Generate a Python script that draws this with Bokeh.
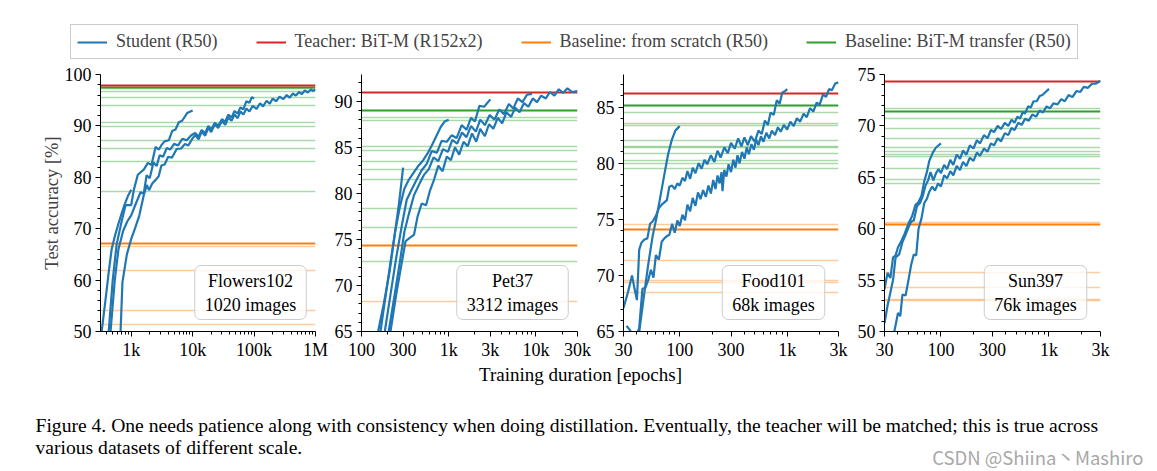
from bokeh.plotting import figure
from bokeh.models import Range1d, FixedTicker, Label
from bokeh.layouts import column, row
from bokeh.core.properties import value
from bokeh.embed import file_html
from bokeh.resources import INLINE

BLUE = "#1f77b4"; RED = "#d62728"; ORANGE = "#ff7f0e"; GREEN = "#2ca02c"
SERIF = "Liberation Serif"

# ---------------- data ----------------
LEGEND_LABELS = ["Student (R50)", "Teacher: BiT-M (R152x2)",
                 "Baseline: from scratch (R50)", "Baseline: BiT-M transfer (R50)"]
NAMES = ["Flowers102", "Pet37", "Food101", "Sun397"]
SIZES = ["1020 images", "3312 images", "68k images", "76k images"]
Y_LABEL = "Test accuracy [%]"
X_LABEL = "Training duration [epochs]"
CAPTION_1 = ("Figure 4. One needs patience along with consistency when doing distillation. "
             "Eventually, the teacher will be matched; this is true across")
CAPTION_2 = "various datasets of different scale."
WATERMARK = "CSDN @Shiina丶Mashiro"

# tick labels
FLOW_XTICKS = [1000, 10000, 100000, 1000000]
FLOW_XLABELS = ["1k", "10k", "100k", "1M"]
PET_XTICKS = [100, 300, 1000, 3000, 10000, 30000]
PET_XLABELS = ["100", "300", "1k", "3k", "10k", "30k"]
FS_XTICKS = [30, 100, 300, 1000, 3000]
FS_XLABELS = ["30", "100", "300", "1k", "3k"]
FLOW_YTICKS = [50, 60, 70, 80, 90, 100]
PET_YTICKS = [65, 70, 75, 80, 85, 90]
FOOD_YTICKS = [65, 70, 75, 80, 85]
SUN_YTICKS = [50, 55, 60, 65, 70, 75]

# horizontal reference lines (accuracy %)
FLOW_TEACHER = [97.9]
FLOW_SCRATCH_BEST = [67.1]
FLOW_SCRATCH_OTHER = [66.5, 61.8, 54.1, 51.4]
FLOW_TRANSFER_BEST = [97.5]
FLOW_TRANSFER_OTHER = [97.2, 96.6, 95.5, 94.0, 90.7, 89.9, 87.2, 85.7, 83.0, 77.3]

PET_TEACHER = [91.0]
PET_SCRATCH_BEST = [74.3]
PET_SCRATCH_OTHER = [68.3]
PET_TRANSFER_BEST = [89.0]
PET_TRANSFER_OTHER = [88.2, 87.9, 85.1, 84.6, 83.5, 82.6, 81.5, 78.3, 76.3, 72.6]

FOOD_TEACHER = [86.2]
FOOD_SCRATCH_BEST = [74.1]
FOOD_SCRATCH_OTHER = [74.55, 71.3, 69.5, 69.35, 68.5]
FOOD_TRANSFER_BEST = [85.1]
FOOD_TRANSFER_OTHER = [84.5, 83.5, 83.4, 82.0, 81.5, 81.4, 80.85, 80.25, 79.95, 79.5]

SUN_TEACHER = [74.3]
SUN_SCRATCH_BEST = [60.45]
SUN_SCRATCH_OTHER = [60.6, 55.7, 54.25, 53.15, 53.0]
SUN_TRANSFER_BEST = [71.4]
SUN_TRANSFER_OTHER = [71.66, 70.75, 69.7, 68.8, 67.9, 67.5, 67.2, 67.05, 65.9, 64.75, 64.35]

# student curves: (epochs, accuracy)
FLOW_C1 = [(330, 50), (380, 56), (430, 61.5), (480, 66), (540, 68.5), (620, 71), (700, 73),
           (780, 74.7), (880, 76.3), (1000, 77.6)]
FLOW_C2 = [(430, 50), (500, 60), (580, 67), (700, 71.5), (810, 74.6), (1000, 74.6), (1100, 77.5),
           (1280, 80.5), (1600, 81.5), (1870, 82.8), (2140, 82.4), (2490, 85.9), (2820, 85.4),
           (3080, 86.2), (3490, 87), (4090, 87.2), (4640, 89), (5260, 89.3), (5960, 90.7),
           (6750, 91), (8140, 92.5), (10000, 93)]
FLOW_C3 = [(461, 50), (540, 60), (620, 66), (740, 69.6), (870, 71.5), (1000, 72.6), (1200, 75),
           (1420, 77.1), (1600, 76.8), (1780, 80.4), (2000, 79.8), (2300, 82.9), (2600, 82.2),
           (2900, 84.3), (3300, 84), (3800, 85.7), (4300, 85.4), (5000, 86.5), (5800, 86.2),
           (6800, 87.5), (8000, 87.2), (9500, 88.2), (11000, 88.6), (12500, 87.9), (14000, 89.2),
           (16000, 88.6), (18000, 90), (20000, 89.3), (23000, 90.6), (26000, 90.0), (30000, 91.3),
           (34000, 90.8), (38000, 92.2), (43000, 91.6), (48000, 92.9), (54000, 92.4), (60000, 93.6),
           (67000, 93.2), (75000, 94.8), (84000, 94.5), (92000, 95.6), (100000, 95.3)]
FLOW_C4 = [(671, 50), (720, 59.6), (850, 65), (1000, 68), (1150, 70), (1350, 72.5), (1600, 76.5),
           (1800, 78.5), (1950, 77.5), (2200, 78.8), (2500, 79.5), (2800, 80.2), (3100, 82.3),
           (3500, 82.5), (4000, 84), (4600, 83.8), (5500, 85.5), (6500, 85.6), (7500, 86.5),
           (8500, 86.2), (10000, 87.6), (11000, 88.2), (12500, 87.4), (14000, 88.9), (16000, 88.1),
           (18000, 89.6), (20000, 88.8), (23000, 90.3), (26000, 89.6), (30000, 90.9), (34000, 90.2),
           (38000, 91.6), (43000, 91), (48000, 92.2), (54000, 91.5), (60000, 92.8), (67000, 92.2),
           (75000, 93.4), (84000, 92.8), (95000, 93.9), (110000, 93.3), (125000, 94.4),
           (140000, 93.8), (160000, 94.9), (180000, 94.3), (200000, 95.3), (230000, 94.8),
           (260000, 95.7), (300000, 95.2), (340000, 96), (380000, 95.5), (430000, 96.3),
           (480000, 95.9), (540000, 96.6), (600000, 96.2), (670000, 96.9), (750000, 96.5),
           (840000, 97.1), (920000, 96.8), (1000000, 97.1)]

PET_P1 = [(155, 65), (180, 68), (210, 71.5), (240, 75.5), (270, 79), (300, 82.8)]
PET_P2 = [(165, 65), (190, 69), (215, 72.5), (245, 76), (275, 78.5), (310, 80.5), (350, 81.5),
          (400, 82.3), (450, 83), (510, 83.6), (570, 84.3), (640, 85.2), (720, 86.2), (810, 87.2),
          (900, 87.8), (1000, 88.0)]
PET_P3 = [(185, 65), (215, 69), (250, 73), (290, 76.5), (330, 79.3), (380, 80.5), (430, 81.5),
          (490, 82.5), (560, 83.2), (640, 84.6), (730, 84.4), (830, 85.7), (950, 85.6),
          (1080, 86.3), (1230, 86.0), (1410, 87.4), (1600, 86.9), (1800, 88.2), (2000, 87.8),
          (2250, 89.5), (2550, 89.4), (3000, 90.2)]
PET_P4 = [(205, 65), (240, 69), (275, 72.5), (310, 75.8), (350, 77.8), (400, 79.8), (460, 81),
          (520, 82), (590, 82.6), (670, 83.9), (760, 83.5), (860, 84.8), (980, 84.5), (1100, 85.8),
          (1250, 85.4), (1420, 86.6), (1600, 86.1), (1800, 87.3), (2050, 86.7), (2300, 88.0),
          (2600, 87.4), (2950, 88.5), (3350, 88.0), (3800, 89.1), (4300, 88.6), (4900, 89.7),
          (5500, 89.2), (6200, 90.3), (7000, 89.9), (7900, 90.7), (9000, 90.8)]
PET_P5 = [(215, 65), (250, 69), (290, 72.5), (320, 74.8), (360, 75.2), (400, 75.5), (440, 77.5),
          (490, 78.9), (550, 78.7), (610, 80.3), (680, 81.5), (760, 83.0), (850, 82.4), (950, 84.0),
          (1060, 83.6), (1180, 85.0), (1320, 84.2), (1480, 85.6), (1650, 85.1), (1850, 86.5),
          (2070, 85.6), (2300, 87.0), (2600, 86.2), (2900, 87.5), (3250, 87.0), (3650, 88.2),
          (4100, 87.6), (4600, 88.8), (5200, 88.3), (5800, 89.3), (6500, 88.8), (7300, 89.8),
          (8200, 89.4), (9200, 90.3), (10300, 89.9), (11500, 90.6), (13000, 90.3), (14500, 91.0),
          (16300, 90.6), (18300, 91.3), (20500, 90.9), (23000, 91.4), (26000, 91.0), (30000, 91.1)]

FOOD_F1 = [(42, 65), (47, 68.5), (51, 71), (56, 73.5), (61, 75.2), (66, 77), (72, 79), (78, 80.8),
           (84, 82), (91, 82.9), (100, 83.3)]
FOOD_F2 = [(30, 67.1), (33, 68.5), (36, 70), (38, 68.8), (40, 67.8), (42, 72.3), (44, 72.9),
           (47, 73.2), (50, 73.3), (53, 74.6), (56, 74.8), (60, 75.3), (64, 76), (68, 76.3),
           (72, 76.5), (76, 76.7), (80, 77.9), (85, 78.0), (90, 77.7), (95, 78.2), (100, 78.0),
           (106, 78.7), (112, 78.4), (118, 79.3), (125, 78.6), (132, 79.6), (140, 79.1), (150, 80.0),
           (160, 79.5), (170, 80.3), (180, 79.9), (195, 80.7), (210, 80.1), (225, 81.1), (240, 80.5),
           (260, 81.4), (280, 80.9), (300, 81.8), (325, 81.3), (350, 82.2), (375, 81.5), (400, 82.3),
           (430, 81.6), (460, 82.4), (500, 81.9), (540, 82.9), (580, 82.6), (620, 83.8), (660, 83.4),
           (700, 84.5), (750, 84.3), (800, 85.6), (850, 85.3), (900, 86.3), (950, 86.4), (1000, 86.6)]
FOOD_F3 = [(32, 65.5), (34, 65.2), (36, 64.8), (39, 64.5), (42, 65.3), (45, 68.8), (48, 68.9),
           (51, 69.6), (54, 70.5), (57, 69.8), (60, 71.8), (64, 71.4), (68, 73), (72, 73.3),
           (76, 73.5), (80, 73.6), (85, 74.6), (90, 73.8), (95, 74.9), (100, 74.4), (106, 75.4),
           (112, 74.9), (118, 76.3), (125, 75.7), (132, 76.9), (140, 76.2), (148, 77.4), (156, 76.8),
           (165, 77.6), (175, 77), (185, 78), (195, 77.3), (205, 78.5), (215, 77.7), (225, 78.9),
           (235, 78.2), (245, 79.2), (250, 77.5), (260, 79.4), (272, 78.8), (285, 79.9), (300, 79.2),
           (315, 80.3), (330, 79.6), (345, 80.7), (360, 80), (380, 81), (400, 80.4), (420, 81.4),
           (440, 80.8), (465, 81.7), (490, 81.2), (515, 82.1), (540, 81.6), (570, 82.4), (600, 81.9),
           (640, 82.7), (680, 82.2), (720, 82.9), (770, 82.5), (820, 83.2), (870, 82.8), (930, 83.4),
           (1000, 83), (1070, 83.7), (1150, 83.3), (1230, 84), (1320, 83.7), (1420, 84.4),
           (1520, 84.1), (1630, 84.9), (1750, 84.6), (1880, 85.4), (2000, 85.2), (2150, 86.1),
           (2300, 85.9), (2450, 86.6), (2600, 86.5), (2800, 87.1), (3000, 87.2)]

SUN_S1 = [(30, 54.1), (32, 55.7), (34, 55.2), (36, 57.2), (38, 57.4), (40, 58.2), (43, 58.8),
          (46, 59.5), (50, 60.5), (54, 61.2), (58, 62.3), (62, 62.6), (66, 63.2), (70, 64.6),
          (74, 65.5), (78, 66.6), (84, 67.4), (90, 67.9), (100, 68.3)]
SUN_S2 = [(30, 50.8), (32, 52.5), (34, 53.8), (36, 55), (38, 57.2), (41, 57.5), (44, 58.7),
          (47, 59.4), (50, 60.1), (53, 60.7), (56, 60.8), (60, 62.2), (64, 62.5), (68, 63.2),
          (72, 64.2), (76, 64.7), (80, 65.5), (85, 64.7), (90, 65.4), (95, 65.8), (100, 65.4),
          (107, 66.2), (114, 65.8), (122, 66.7), (130, 66.2), (140, 67.2), (150, 66.8), (160, 67.6),
          (172, 67.2), (185, 68.1), (200, 67.8), (215, 68.6), (230, 68.3), (250, 69.1), (270, 68.8),
          (290, 69.6), (310, 69.4), (335, 70), (360, 69.7), (390, 70.3), (420, 70), (450, 70.6),
          (480, 70.3), (510, 70.9), (540, 70.7), (570, 71.3), (600, 71.2), (640, 71.9), (680, 71.8),
          (720, 72.4), (770, 72.4), (820, 72.9), (870, 73), (930, 73.3), (1000, 73.6)]
SUN_S3 = [(37, 50), (40, 51.8), (42, 51.5), (44, 53.6), (47, 53.5), (50, 55), (53, 56.5),
          (56, 57.5), (59, 57.4), (62, 60), (66, 61), (70, 62.5), (74, 62.9), (78, 63.6), (83, 64.1),
          (88, 63.7), (94, 64.4), (100, 64.1), (107, 65.2), (114, 64.9), (122, 65.6), (130, 65.2),
          (140, 66.1), (150, 65.7), (160, 66.5), (172, 66.1), (185, 66.9), (200, 66.6), (215, 67.4),
          (230, 67.1), (250, 67.8), (270, 67.5), (290, 68.3), (310, 68.1), (335, 68.8), (360, 68.5),
          (390, 69.3), (420, 69.1), (450, 69.8), (480, 69.6), (520, 70.3), (560, 70.1), (600, 70.7),
          (650, 70.5), (700, 71.1), (760, 70.9), (820, 71.5), (880, 71.3), (950, 71.9), (1020, 71.7),
          (1100, 72.2), (1200, 72.1), (1300, 72.6), (1400, 72.4), (1520, 73), (1650, 72.8),
          (1800, 73.4), (1950, 73.3), (2100, 73.8), (2300, 73.7), (2500, 74.1), (2700, 74.1),
          (3000, 74.4)]


# ---------------- helpers ----------------
def log_minor(exps, majors):
    return [m * 10 ** e for e in exps for m in range(2, 10) if m * 10 ** e not in majors]


def make_panel(xr, yr, xt, xl, xminor, yt, yminor, left, fw, lines, curves, name, size, ylabel=None):
    p = figure(x_axis_type="log", x_range=Range1d(*xr), y_range=Range1d(*yr),
               frame_width=fw, frame_height=257, min_border_left=left, min_border_right=16,
               min_border_top=14, min_border_bottom=30, output_backend="svg",
               toolbar_location=None, background_fill_color="white", border_fill_color="white")
    p.outline_line_color = None
    p.xgrid.visible = False
    p.ygrid.visible = False
    p.xaxis.ticker = FixedTicker(ticks=xt, minor_ticks=xminor)
    p.xaxis.major_label_overrides = {t: l for t, l in zip(xt, xl)}
    p.yaxis.ticker = FixedTicker(ticks=yt, minor_ticks=yminor)
    for ax in (p.xaxis[0], p.yaxis[0]):
        ax.major_label_text_font = SERIF
        ax.major_label_text_font_size = "18px"
        ax.major_label_text_color = "black"
        ax.axis_line_color = "black"
        ax.major_tick_line_color = "black"
        ax.minor_tick_line_color = "black"
        ax.major_tick_in = 0
        ax.major_tick_out = 5
        ax.minor_tick_in = 0
        ax.minor_tick_out = 3
    p.xaxis.major_label_standoff = 3
    p.yaxis.major_label_standoff = 4
    if ylabel:
        p.yaxis.axis_label = ylabel
        p.yaxis.axis_label_text_font = SERIF
        p.yaxis.axis_label_text_font_size = "18.5px"
        p.yaxis.axis_label_text_font_style = "normal"
        p.yaxis.axis_label_standoff = 0
    teacher, sc_best, sc_other, tr_best, tr_other = lines
    p.hspan(y=tr_other, line_color=GREEN, line_width=1.5, line_alpha=0.4)
    p.hspan(y=sc_other, line_color=ORANGE, line_width=1.5, line_alpha=0.4)
    p.hspan(y=tr_best, line_color=GREEN, line_width=2, line_alpha=1)
    p.hspan(y=sc_best, line_color=ORANGE, line_width=2, line_alpha=1)
    p.hspan(y=teacher, line_color=RED, line_width=2, line_alpha=1)
    for pts in curves:
        xs, ys = zip(*pts)
        p.line(list(xs), list(ys), line_color=BLUE, line_width=2.2)
    p.add_layout(Label(x=fw - 65, y=12, x_units="screen", y_units="screen",
                       text=name + "\n" + size, text_align="center", text_baseline="bottom",
                       text_font=SERIF, text_font_size="18px", text_color="black",
                       background_fill_color="white", background_fill_alpha=0.8,
                       border_line_color="#cccccc", border_line_alpha=1.0, border_line_width=1,
                       padding=dict(left=10, right=10, top=5, bottom=5), border_radius=6))
    return p


p1 = make_panel((10 ** 2.5, 1e6), (50, 100), FLOW_XTICKS, FLOW_XLABELS,
                log_minor(range(2, 6), FLOW_XTICKS), FLOW_YTICKS,
                [v for v in range(50, 101, 2) if v not in FLOW_YTICKS], 100, 215,
                (FLOW_TEACHER, FLOW_SCRATCH_BEST, FLOW_SCRATCH_OTHER, FLOW_TRANSFER_BEST, FLOW_TRANSFER_OTHER),
                [FLOW_C1, FLOW_C2, FLOW_C3, FLOW_C4], NAMES[0], SIZES[0], ylabel=Y_LABEL)
p2 = make_panel((100, 30000), (65, 92.9), PET_XTICKS, PET_XLABELS,
                log_minor(range(2, 5), PET_XTICKS), PET_YTICKS,
                [v for v in range(65, 93) if v not in PET_YTICKS], 27, 216,
                (PET_TEACHER, PET_SCRATCH_BEST, PET_SCRATCH_OTHER, PET_TRANSFER_BEST, PET_TRANSFER_OTHER),
                [PET_P1, PET_P2, PET_P3, PET_P4, PET_P5], NAMES[1], SIZES[1])
p3 = make_panel((30, 3000), (65, 87.9), FS_XTICKS, FS_XLABELS,
                log_minor(range(1, 4), FS_XTICKS), FOOD_YTICKS,
                [v for v in range(65, 88) if v not in FOOD_YTICKS], 27, 215,
                (FOOD_TEACHER, FOOD_SCRATCH_BEST, FOOD_SCRATCH_OTHER, FOOD_TRANSFER_BEST, FOOD_TRANSFER_OTHER),
                [FOOD_F1, FOOD_F2, FOOD_F3], NAMES[2], SIZES[2])
p4 = make_panel((30, 3000), (50, 75), FS_XTICKS, FS_XLABELS,
                log_minor(range(1, 4), FS_XTICKS), SUN_YTICKS,
                [v for v in range(50, 76) if v not in SUN_YTICKS], 27, 216,
                (SUN_TEACHER, SUN_SCRATCH_BEST, SUN_SCRATCH_OTHER, SUN_TRANSFER_BEST, SUN_TRANSFER_OTHER),
                [SUN_S1, SUN_S2, SUN_S3], NAMES[3], SIZES[3])

# ---------------- legend strip ----------------
leg = figure(width=1150, height=60, x_range=Range1d(0, 1), y_range=Range1d(0, 1),
             output_backend="svg", toolbar_location=None, min_border=0,
             x_axis_location=None, y_axis_location=None, outline_line_color=None)
leg.xgrid.visible = False
leg.ygrid.visible = False
for lab, col in zip(LEGEND_LABELS, [BLUE, RED, ORANGE, GREEN]):
    # off-range placeholder data: only the legend entry is visible
    leg.line(x=[5, 6], y=[5, 5], line_color=col, line_width=2, legend_label=lab)
L = leg.legend[0]
L.orientation = "horizontal"
L.location = (70, 1)
L.label_text_font = SERIF
L.label_text_font_size = "18px"
L.border_line_color = "#cccccc"
L.border_line_width = 1
L.border_line_alpha = 1
L.padding = 6
L.margin = 0
L.spacing = 38
L.glyph_width = 30
L.glyph_height = 20
L.label_height = 20
L.label_standoff = 9

# ---------------- caption strip ----------------
cap = figure(width=1150, height=108, x_range=Range1d(0, 1150), y_range=Range1d(469, 361),
             output_backend="svg", toolbar_location=None, min_border=0,
             x_axis_location=None, y_axis_location=None, outline_line_color=None)
cap.xgrid.visible = False
cap.ygrid.visible = False
cap.text(x=[580], y=[373], text=[X_LABEL], text_align="center", text_baseline="middle",
         text_font=value(SERIF), text_font_size="19px", text_color="black")
cap.text(x=[35, 35], y=[424, 446], text=[CAPTION_1, CAPTION_2], text_align="left",
         text_baseline="middle", text_font=value(SERIF), text_font_size="19.6px", text_color="black")
cap.text(x=[1143], y=[455], text=[WATERMARK], text_align="right", text_baseline="middle",
         text_font=value("Noto Sans CJK SC"), text_font_size="18.5px", text_color="#a8a8a8")

layout = column(leg, row(p1, p2, p3, p4), cap)
open("out.html", "w").write(file_html(layout, INLINE))
